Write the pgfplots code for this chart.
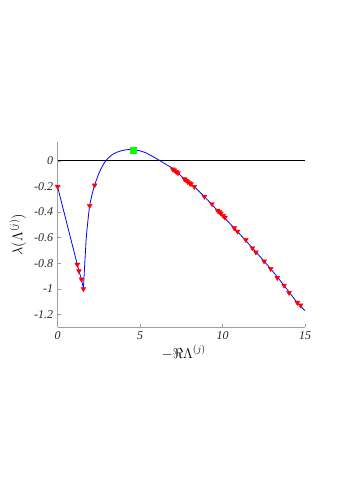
\documentclass[border=0pt]{standalone}
\usepackage{pgfplots}
\pgfplotsset{compat=1.18}
\usepackage{fontspec}
\setmainfont{Liberation Serif}
\begin{document}
\begin{tikzpicture}[x=1bp,y=1bp]
\path[use as bounding box] (0,0) rectangle (347,491);
\begin{axis}[
  at={(57.5bp,163.7bp)}, anchor=south west,
  scale only axis, width=247.5bp, height=185.6bp,
  xmin=0, xmax=15, ymin=-1.3, ymax=0.15,
  axis lines=left, axis line style={-, draw=gray!75, line width=0.5pt},
  tick style={draw=gray!75, line width=0.5pt}, tick align=inside,
  major tick length=3bp,
  xtick={0,5,10,15}, xticklabels={\textit{0},\textit{5},\textit{10},\textit{15}},
  ytick={-1.2,-1,-0.8,-0.6,-0.4,-0.2,0},
  yticklabels={\textit{-1.2},\textit{-1},\textit{-0.8},\textit{-0.6},\textit{-0.4},\textit{-0.2},\textit{0}},
  tick label style={font=\fontsize{12}{12}\selectfont, text=black!85},
  xticklabel style={yshift=-1bp},
  yticklabel style={xshift=-1bp},
  xlabel={$-\Re\Lambda^{(j)}$}, ylabel={$\lambda(\Lambda^{(j)})$},
  label style={font=\fontsize{14.5}{14.5}\selectfont},
  xlabel style={at={(axis description cs:0.51,-0.135)}, anchor=center},
  ylabel style={at={(axis description cs:-0.16,0.5)}, anchor=center, rotate=0},
  clip=false,
]
\addplot[black, line width=0.8pt] coordinates {(0,0) (15,0)};
\addplot[only marks, mark=triangle*, mark options={rotate=180, fill=red, draw=red}, mark size=2.8pt] coordinates {
(0,-0.2) (1.2,-0.81) (1.3,-0.86) (1.45,-0.925) (1.57,-1.0) (1.95,-0.35) (2.25,-0.19)
(6.98,-0.065) (7.08,-0.072) (7.19,-0.085) (7.30,-0.095) (7.69,-0.142) (7.80,-0.152) (7.89,-0.163) (8.0,-0.172) (8.09,-0.181) (8.29,-0.202)
(8.90,-0.279) (9.36,-0.336) (9.70,-0.388) (9.80,-0.398) (9.90,-0.409) (10.04,-0.429) (10.15,-0.442)
(10.71,-0.525) (10.91,-0.551) (11.41,-0.616) (11.81,-0.680) (12.02,-0.714)
(12.52,-0.784) (12.92,-0.843) (13.32,-0.913) (13.73,-0.973) (14.03,-1.03)
(14.53,-1.107) (14.73,-1.128)};
\addplot[only marks, mark=square*, mark options={fill=green, draw=green}, mark size=2.8pt] coordinates {(4.6,0.085)};
\addplot[blue, line width=0.8pt] coordinates {
(0,-0.2) (1.2,-0.81) (1.3,-0.86) (1.45,-0.925) (1.57,-0.995)};
\addplot[blue, line width=0.8pt, smooth, tension=0.5] coordinates {
(1.57,-0.995) (1.62,-0.88) (1.68,-0.74) (1.75,-0.59) (1.85,-0.46) (1.95,-0.35) (2.1,-0.26) (2.25,-0.19)
(2.55,-0.085) (2.92,0) (3.36,0.052) (3.76,0.075) (4.17,0.087) (4.57,0.088)
(5.0,0.078) (5.37,0.062) (5.98,0.019) (6.58,-0.028) (7.08,-0.067)
(7.69,-0.142) (8.29,-0.202) (8.90,-0.279) (9.70,-0.388) (10.71,-0.525)
(11.81,-0.680) (12.92,-0.843) (13.73,-0.973) (14.53,-1.107) (15,-1.17)};
\end{axis}
\end{tikzpicture}
\end{document}
